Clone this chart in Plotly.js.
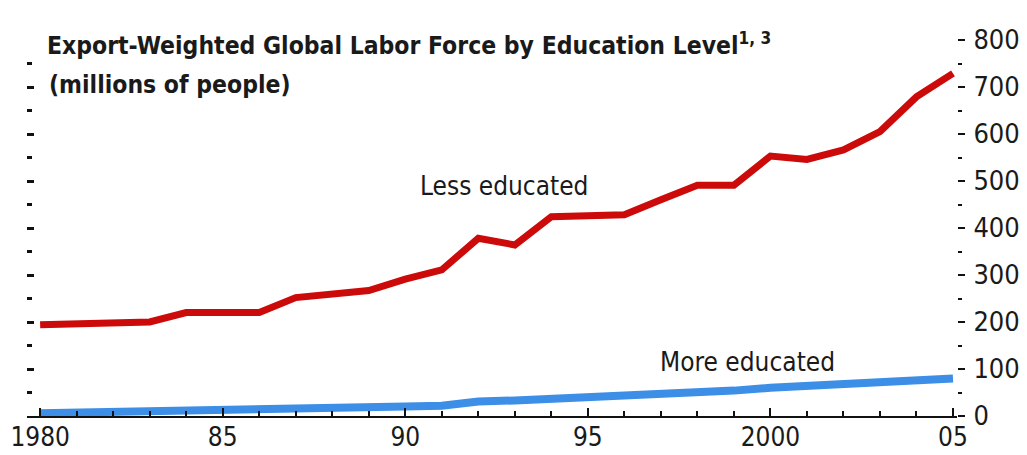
<!DOCTYPE html>
<html>
<head>
<meta charset="utf-8">
<script src="https://cdn.plot.ly/plotly-3.0.1.min.js"></script>
<style>
  html, body { margin: 0; padding: 0; background: #ffffff; }
  #chart { width: 1027px; height: 455px; }
</style>
</head>
<body>
<div id="chart"></div>
<script>
const years = [1980,1981,1982,1983,1984,1985,1986,1987,1988,1989,1990,1991,1992,
               1993,1994,1995,1996,1997,1998,1999,2000,2001,2002,2003,2004,2005];
const lessEducated = [194,195,198,200,220,220,220,252,259,267,291,311,378,
                      364,424,425,428,460,491,491,553,546,566,605,679,729];
const moreEducated = [6,7,8,9,10,12,13,15,16,18,20,22,31,
                      33,36,39,43,46,50,54,60,64,68,72,76,80];
const xTickVals = [1980,1985,1990,1995,2000,2005];
const xTickText = ["1980","85","90","95","2000","05"];
const yTickVals = [0,100,200,300,400,500,600,700,800];
const yTickText = ["0","100","200","300","400","500","600","700","800"];
const seriesNames = ["Less educated","More educated"];
const titleText = "Export-Weighted Global Labor Force by Education Level<sup>1, 3</sup>";
const subtitleText = "(millions of people)";

const FONT = '"DejaVu Sans Condensed", "Liberation Sans Narrow", "Liberation Sans", Arial, sans-serif';

const traces = [
  {
    x: years, y: lessEducated, name: seriesNames[0], type: 'scatter', mode: 'lines',
    line: { color: '#cc0a0a', width: 7 }, yaxis: 'y'
  },
  {
    x: years, y: moreEducated, name: seriesNames[1], type: 'scatter', mode: 'lines',
    line: { color: '#3d8ee6', width: 8 }, yaxis: 'y'
  }
];

const layout = {
  width: 1027, height: 455,
  margin: { l: 27, r: 70, t: 40, b: 39 },
  paper_bgcolor: '#ffffff', plot_bgcolor: '#ffffff',
  showlegend: false,
  font: { family: FONT, color: '#1a1a1a' },
  title: {
    text: '<b>' + titleText + '</b>',
    xref: 'container', yref: 'container',
    x: 47 / 1027, xanchor: 'left',
    y: 1 - 37 / 455, yanchor: 'top',
    font: { family: FONT, size: 24.5, color: '#1a1a1a' }
  },
  annotations: [
    { text: '<b>' + subtitleText + '</b>', xref: 'paper', yref: 'paper',
      x: 20 / 930, y: 1 - 28 / 376, xanchor: 'left', yanchor: 'top', showarrow: false,
      font: { family: FONT, size: 24.5, color: '#1a1a1a' } },
    { text: seriesNames[0], xref: 'x', yref: 'y', x: 1992.7, y: 489, showarrow: false,
      font: { family: FONT, size: 26, color: '#1a1a1a' } },
    { text: seriesNames[1], xref: 'x', yref: 'y', x: 1999.36, y: 115, showarrow: false,
      font: { family: FONT, size: 26, color: '#1a1a1a' } }
  ],
  xaxis: {
    range: [1979.64, 2005.11],
    showgrid: false, zeroline: false,
    showline: true, linecolor: '#111', linewidth: 2,
    ticks: 'inside', ticklen: 8, tickwidth: 2, tickcolor: '#111',
    tickvals: xTickVals, ticktext: xTickText,
    minor: { dtick: 1, tick0: 1980, ticks: 'inside', ticklen: 5, tickwidth: 2, tickcolor: '#111', showgrid: false },
    tickfont: { family: FONT, size: 26, color: '#1a1a1a' },
    ticklabelstandoff: -3,
    fixedrange: true
  },
  yaxis: {
    range: [0, 800], side: 'right',
    showgrid: false, zeroline: false, showline: false,
    ticks: 'outside', ticklen: 7, tickwidth: 2, tickcolor: '#111',
    tickvals: yTickVals, ticktext: yTickText,
    minor: { dtick: 50, tick0: 0, ticks: 'outside', ticklen: 4, tickwidth: 2, tickcolor: '#111', showgrid: false },
    tickfont: { family: FONT, size: 27, color: '#1a1a1a' },
    ticklabelstandoff: 3,
    fixedrange: true
  },
  yaxis2: {
    range: [0, 800], side: 'left', overlaying: 'y',
    showgrid: false, zeroline: false, showline: false, showticklabels: false,
    ticks: 'inside', ticklen: 7, tickwidth: 3, tickcolor: '#111',
    dtick: 100, tick0: 0,
    minor: { dtick: 50, tick0: 0, ticks: 'inside', ticklen: 5, tickwidth: 3, tickcolor: '#111', showgrid: false },
    fixedrange: true
  }
};

// invisible helper trace so the left axis with its tick marks is drawn
traces.push({ x: [years[0]], y: [lessEducated[0]], yaxis: 'y2', mode: 'markers',
  marker: { opacity: 0 }, hoverinfo: 'skip', showlegend: false });

Plotly.newPlot('chart', traces, layout, { displayModeBar: false, staticPlot: true });
</script>
</body>
</html>
